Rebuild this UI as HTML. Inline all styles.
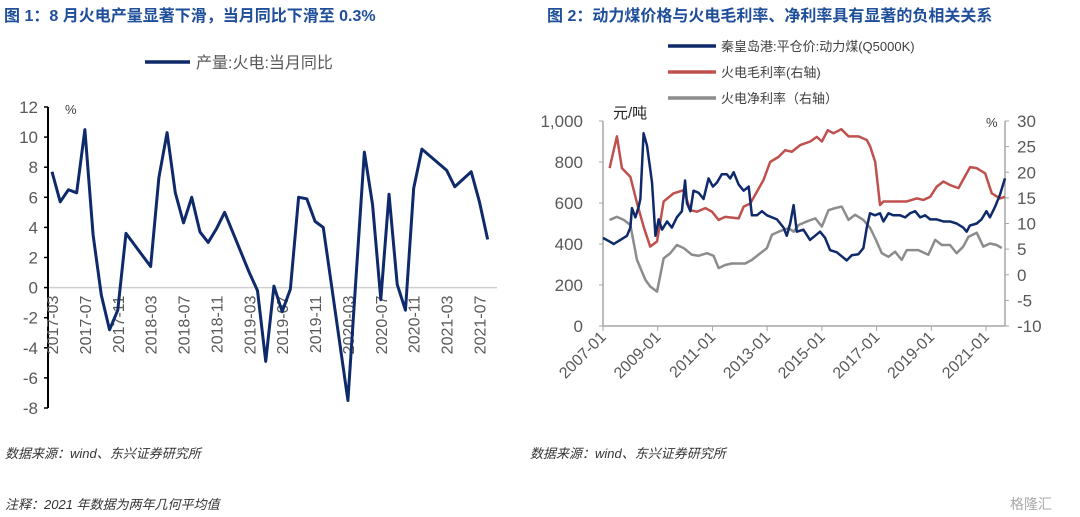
<!DOCTYPE html>
<html><head><meta charset="utf-8">
<style>
body{margin:0;background:#fff;width:1080px;height:517px;overflow:hidden;font-family:"Liberation Sans","Noto Sans CJK SC",sans-serif;}
svg{position:absolute;left:0;top:0}
</style></head>
<body>
<svg id="s" width="1080" height="517" xmlns="http://www.w3.org/2000/svg">
<text x="4" y="21" font-size="16" font-weight="bold" fill="#1f4e9a">图 1：8 月火电产量显著下滑，当月同比下滑至 0.3%</text>
<text x="547" y="21" font-size="16" font-weight="bold" fill="#1f4e9a">图 2：动力煤价格与火电毛利率、净利率具有显著的负相关关系</text>
<g>
<line x1="145" y1="62" x2="190" y2="62" stroke="#0e2a6b" stroke-width="3.5"/>
<text x="196" y="68" font-size="16" fill="#595959">产量:火电:当月同比</text></g>
<text x="65" y="114" font-size="13" fill="#404040">%</text>
<g id="c1"></g>
<g id="c2"></g>
<g>
<line x1="668" y1="46" x2="716" y2="46" stroke="#0e2a6b" stroke-width="3.5"/>
<text x="721" y="51" font-size="13" fill="#404040">秦皇岛港:平仓价:动力煤(Q5000K)</text>
<line x1="668" y1="72" x2="716" y2="72" stroke="#c0504d" stroke-width="3.5"/>
<text x="721" y="77" font-size="13" fill="#404040">火电毛利率(右轴)</text>
<line x1="668" y1="98" x2="716" y2="98" stroke="#8c8c8c" stroke-width="3.5"/>
<text x="721" y="103" font-size="13" fill="#404040">火电净利率（右轴）</text></g>
<text x="613" y="118" font-size="15" fill="#222">元/吨</text>
<text x="986" y="127" font-size="13" fill="#404040">%</text>
<text x="5" y="458" font-size="13" font-style="italic" fill="#333">数据来源：wind、东兴证券研究所</text>
<text x="530" y="458" font-size="13" font-style="italic" fill="#333">数据来源：wind、东兴证券研究所</text>
<text x="5" y="509" font-size="13" font-style="italic" fill="#333">注释：2021 年数据为两年几何平均值</text>
<text x="1010" y="509" font-size="14" fill="#aaa">格隆汇</text>
</svg>
<script>
// chart 1 data (months since 2017-03)
const c1Months=[0,1,2,3,4,5,6,7,8,9,12,13,14,15,16,17,18,19,20,21,24,25,26,27,28,29,30,31,32,33,36,37,38,39,40,41,42,43,44,45,48,49,50,51,52,53];
const c1Values=[7.7,5.7,6.5,6.3,10.5,3.5,-0.5,-2.8,-1.5,3.6,1.4,7.3,10.3,6.3,4.3,6.0,3.7,3.0,3.9,5.0,1.0,-0.2,-4.9,0.1,-1.6,-0.1,6.0,5.9,4.4,4.0,-7.5,0.8,9.0,5.5,-0.8,6.2,0.2,-1.5,6.6,9.2,7.8,6.7,7.2,7.7,5.7,3.2];
const c1Ticks=[12,10,8,6,4,2,0,-2,-4,-6,-8];
const c1XLabels=["2017-03","2017-07","2017-11","2018-03","2018-07","2018-11","2019-03","2019-07","2019-11","2020-03","2020-07","2020-11","2021-03","2021-07"];
// chart 2 data (months since 2007-01)
const coalM=[0,3.2,4.7,7.6,10.5,12,12.7,14.2,15.6,16.4,17.8,19.3,21.5,23,24.4,25.9,28.1,30.2,32.4,34.6,36,36.8,38.3,39.7,41.9,44.1,46.3,48.2,50,52.1,54.3,55.8,57.3,59.5,61.7,63.9,65.3,67.5,69.7,71.9,76.3,79.2,80.6,82.1,83.6,85,87.9,90.8,93,95.2,97.4,99.6,102.5,104.7,106.9,109.1,112,114.2,115.7,117.1,119.3,121.5,123,125.2,127.4,130.3,132.5,134.7,136.9,139.1,141.3,143.5,146.4,149.3,152.2,155.1,158,159.5,160.9,163.9,166,168.2,169.7,171.9,174.1,176.3];
const coalV=[430,410,400,420,440,480,575,530,580,620,940,880,700,440,520,470,510,480,530,560,710,600,560,660,650,620,720,680,700,740,740,720,750,690,660,680,540,540,560,540,520,480,440,500,590,460,470,420,440,460,430,370,360,340,320,345,350,380,480,550,540,550,510,550,540,540,530,550,560,530,540,520,520,510,510,500,480,460,490,500,520,560,530,580,640,720];
const grossM=[2.9,6.1,8.3,12,14.9,17.8,20.7,23.7,26.6,31,35.4,38.3,41.2,44.9,47.8,50.7,53.6,59.5,61.7,64.6,70.4,73.3,77,79.9,82.8,86.5,90.9,93.8,96,98.6,101.1,104.5,107.7,112.1,115.7,117.2,119.4,121.5,123,125.9,133.2,137.6,140.5,143.5,146.4,149.3,152.2,155.9,161,163.9,167.6,170.5,174.1,176.3];
const grossV=[20.8,27,20.8,19.1,14,9.4,5.5,6.5,14.3,15.9,16.5,12.6,12.3,13,12.3,10.7,11.3,11,13.3,13.9,18.5,22,23,24.3,24,25.3,26,26.9,26,28.2,27.6,28.4,27,27,26.3,25,22,13.6,14.3,14.3,14.3,14.9,14.6,15.2,17.2,18.2,17.5,16.9,21,20.8,19.8,15.9,14.9,15.2];
const netM=[2.9,6.1,9.1,12,14.9,18.6,20.7,23.7,26.6,29.5,32.4,35.4,39,41.9,45.6,48.5,50.7,53.6,56.5,62.4,65.3,69,71.9,74.1,77,81.4,83.6,85.8,89.4,93.1,96,98.9,101.8,104.7,107.7,110.6,114.2,117.2,119.4,122.3,125.2,128.1,131,133.2,138.3,142.7,145.7,148.6,152.2,155.1,158,160.3,163.9,166.8,169.7,172.7,174.9];
const netV=[10.7,11.3,10.7,9.7,2.9,-1,-2.3,-3.3,3.2,4.2,5.8,5.2,3.9,3.7,4.2,3.7,1.3,1.9,2.2,2.2,2.9,4.2,5.2,7.8,8.4,9.1,8.4,9.7,10.4,11,9.4,12.6,13,13.3,10.7,11.7,10.7,9.1,7.1,4.2,3.5,4.5,2.9,4.8,4.8,3.9,6.8,5.8,5.8,4.2,5.5,7.4,8.2,5.5,6.1,5.8,5.2];
const c2LeftTicks=[0,200,400,600,800,1000];
const c2LeftLabels=["0","200","400","600","800","1,000"];
const c2RightTicks=[-10,-5,0,5,10,15,20,25,30];
const c2XLabels=["2007-01","2009-01","2011-01","2013-01","2015-01","2017-01","2019-01","2021-01"];

const NS="http://www.w3.org/2000/svg";
function mk(p,t,a,txt){const e=document.createElementNS(NS,t);for(const k in a)e.setAttribute(k,a[k]);if(txt!==undefined)e.textContent=txt;p.appendChild(e);return e;}
// chart1
const g1=document.getElementById('c1');
const x1=m=>52+m*8.22, y1=v=>287.6-v*15.05;
mk(g1,'line',{x1:48,y1:y1(0),x2:497,y2:y1(0),stroke:'#d0d0d0','stroke-width':1.5});
mk(g1,'line',{x1:48,y1:y1(12),x2:48,y2:y1(-8),stroke:'#000','stroke-width':2});
c1Ticks.forEach(v=>{
 const t=mk(g1,'text',{x:38,y:y1(v)+6,'font-size':17,fill:'#595959','text-anchor':'end'},String(v));
 
 
 mk(g1,'line',{x1:44,y1:y1(v),x2:48,y2:y1(v),stroke:'#000','stroke-width':1.5});
});
c1XLabels.forEach((l,i)=>{
 const x=x1(i*4);
 const t=mk(g1,'text',{x:0,y:0,'font-size':16,fill:'#595959','text-anchor':'end',transform:`translate(${x+6},${y1(0)+8}) rotate(-90)`},l);
 
 
});
const p1=mk(g1,'polyline',{points:c1Months.map((m,i)=>x1(m)+','+y1(c1Values[i])).join(' '),fill:'none',stroke:'#0e2a6b','stroke-width':3,'stroke-linejoin':'round'});


// chart2
const g2=document.getElementById('c2');
const x2=m=>603+m*2.28, yl=v=>326-v*0.205, yr=v=>326-(v+10)*5.125;
mk(g2,'line',{x1:603,y1:121,x2:603,y2:326,stroke:'#a6a6a6','stroke-width':1.5});
mk(g2,'line',{x1:1005,y1:121,x2:1005,y2:326,stroke:'#a6a6a6','stroke-width':1.5});
mk(g2,'line',{x1:603,y1:326,x2:1005,y2:326,stroke:'#a6a6a6','stroke-width':1.5});
c2LeftTicks.forEach((v,i)=>{
 const t=mk(g2,'text',{x:583,y:yl(v)+6,'font-size':17,fill:'#595959','text-anchor':'end'},c2LeftLabels[i]);
 
 
 mk(g2,'line',{x1:599,y1:yl(v),x2:603,y2:yl(v),stroke:'#a6a6a6'});
});
c2RightTicks.forEach(v=>{
 const t=mk(g2,'text',{x:1017,y:yr(v)+6,'font-size':17,fill:'#595959'},String(v));
 
 
 mk(g2,'line',{x1:1005,y1:yr(v),x2:1009,y2:yr(v),stroke:'#a6a6a6'});
});
c2XLabels.forEach((l,i)=>{
 const x=x2(i*24);
 mk(g2,'line',{x1:x,y1:326,x2:x,y2:331,stroke:'#a6a6a6'});
 const t=mk(g2,'text',{x:0,y:0,'font-size':16,fill:'#595959','text-anchor':'end',transform:`translate(${x+4},${338}) rotate(-45)`},l);
 
 
});
const pn=mk(g2,'polyline',{points:netM.map((m,i)=>x2(m)+','+yr(netV[i])).join(' '),fill:'none',stroke:'#8c8c8c','stroke-width':2.5,'stroke-linejoin':'round'});


const pg=mk(g2,'polyline',{points:grossM.map((m,i)=>x2(m)+','+yr(grossV[i])).join(' '),fill:'none',stroke:'#c0504d','stroke-width':2.5,'stroke-linejoin':'round'});


const pc=mk(g2,'polyline',{points:coalM.map((m,i)=>x2(m)+','+yl(coalV[i])).join(' '),fill:'none',stroke:'#0e2a6b','stroke-width':2.5,'stroke-linejoin':'round'});


</script>
</body></html>
